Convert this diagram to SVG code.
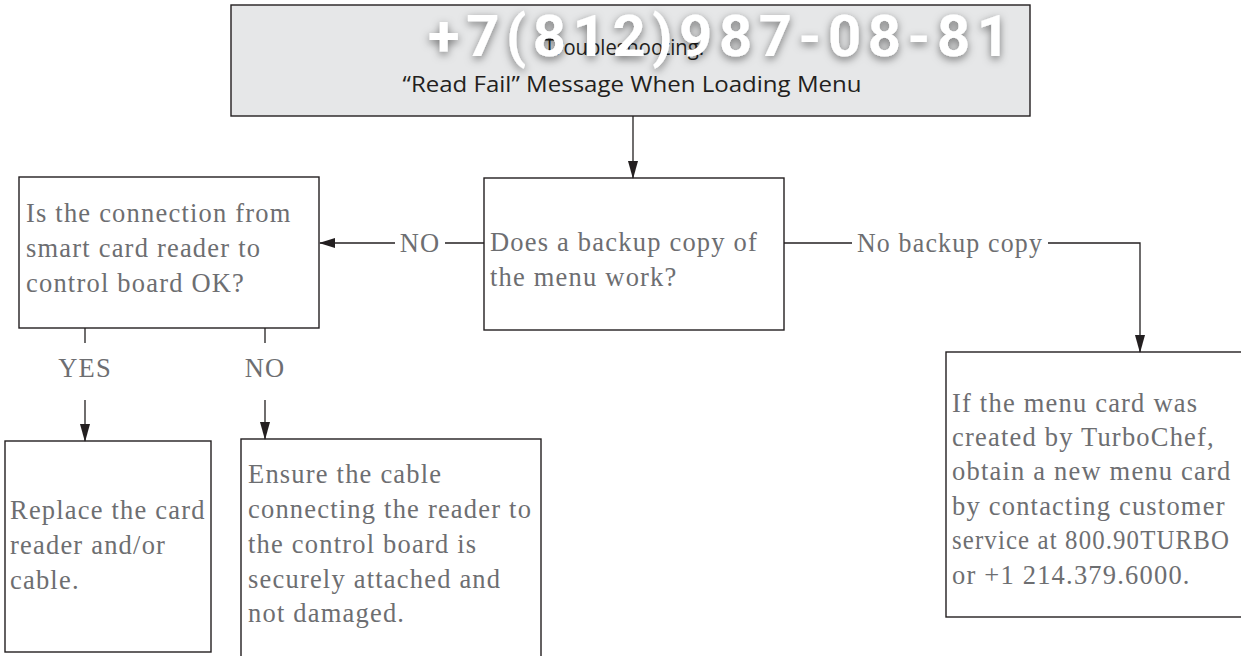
<svg xmlns="http://www.w3.org/2000/svg" width="1241" height="656" viewBox="0 0 1241 656">
<defs>
<style>
.box{fill:#ffffff;stroke:#231f20;stroke-width:1.4}
.title{fill:#e6e7e8;stroke:#231f20;stroke-width:1.4}
.t{font-family:"Liberation Serif",serif;font-size:26.5px;fill:#6d6e71;letter-spacing:1.2px}
.tt{font-family:"Open Sans","Liberation Sans",sans-serif;font-size:22px;fill:#231f20}
.c{stroke:#231f20;stroke-width:1.3;fill:none}
.wm{font-family:Roboto,"Liberation Sans",sans-serif;font-weight:bold;font-size:58px;fill:#ffffff}
</style>
<marker id="av" viewBox="0 0 18 10" refX="17" refY="5" markerWidth="18" markerHeight="10" markerUnits="userSpaceOnUse" orient="auto">
<path d="M0,0 L18,5 L0,10 z" fill="#231f20"/>
</marker>
<marker id="ahl" viewBox="0 0 16 10" refX="15" refY="5" markerWidth="16" markerHeight="10" markerUnits="userSpaceOnUse" orient="auto">
<path d="M0,0 L16,5 L0,10 z" fill="#231f20"/>
</marker>
<filter id="sh" x="-10%" y="-40%" width="120%" height="180%">
<feDropShadow dx="0" dy="3" stdDeviation="4" flood-color="#000000" flood-opacity="0.5"/>
</filter>
</defs>

<g id="n-title">
<rect class="title" x="231" y="5" width="799" height="111"/>
<text class="tt" x="624" y="55" text-anchor="middle" textLength="160" lengthAdjust="spacingAndGlyphs">Troubleshooting:</text>
<text class="tt" x="632" y="92" text-anchor="middle" textLength="459" lengthAdjust="spacingAndGlyphs">“Read Fail” Message When Loading Menu</text>
</g>

<g id="watermark">
<text class="wm" x="428" y="56" textLength="582" lengthAdjust="spacing" filter="url(#sh)">+7(812)987-08-81</text>
</g>

<g id="n-backup">
<rect class="box" x="484" y="178" width="300" height="152"/>
<text class="t" x="490" y="251">Does a backup copy of</text>
<text class="t" x="490" y="286">the menu work?</text>
</g>

<g id="n-connection">
<rect class="box" x="19" y="177" width="300" height="151"/>
<text class="t" x="26" y="222">Is the connection from</text>
<text class="t" x="26" y="257">smart card reader to</text>
<text class="t" x="26" y="292">control board OK?</text>
</g>

<g id="n-menucard">
<rect class="box" x="946" y="352" width="310" height="265"/>
<text class="t" x="952" y="412">If the menu card was</text>
<text class="t" x="952" y="446">created by TurboChef,</text>
<text class="t" x="952" y="480">obtain a new menu card</text>
<text class="t" x="952" y="515">by contacting customer</text>
<text class="t" x="952" y="549" textLength="278" lengthAdjust="spacingAndGlyphs">service at 800.90TURBO</text>
<text class="t" x="952" y="584">or +1 214.379.6000.</text>
</g>

<g id="n-replace">
<rect class="box" x="5" y="441" width="206" height="211"/>
<text class="t" x="10" y="519">Replace the card</text>
<text class="t" x="10" y="554">reader and/or</text>
<text class="t" x="10" y="589">cable.</text>
</g>

<g id="n-ensure">
<rect class="box" x="241" y="439" width="300" height="225"/>
<text class="t" x="248" y="483">Ensure the cable</text>
<text class="t" x="248" y="518">connecting the reader to</text>
<text class="t" x="248" y="553">the control board is</text>
<text class="t" x="248" y="588">securely attached and</text>
<text class="t" x="248" y="622">not damaged.</text>
</g>

<g id="connectors">
<line class="c" x1="633" y1="116" x2="633" y2="178" marker-end="url(#av)"/>
<line class="c" x1="484" y1="243" x2="445" y2="243"/>
<line class="c" x1="395" y1="243" x2="320" y2="243" marker-end="url(#ahl)"/>
<text class="t" x="420" y="252" text-anchor="middle">NO</text>
<polyline class="c" points="784,243 852,243"/>
<text class="t" x="857" y="252" textLength="186" lengthAdjust="spacingAndGlyphs">No backup copy</text>
<polyline class="c" points="1048,243 1140,243 1140,352" marker-end="url(#av)"/>
<line class="c" x1="85" y1="328" x2="85" y2="343"/>
<text class="t" x="85" y="377" text-anchor="middle">YES</text>
<line class="c" x1="85" y1="400" x2="85" y2="441" marker-end="url(#av)"/>
<line class="c" x1="265" y1="328" x2="265" y2="343"/>
<text class="t" x="265" y="377" text-anchor="middle">NO</text>
<line class="c" x1="265" y1="400" x2="265" y2="439" marker-end="url(#av)"/>
</g>
</svg>
